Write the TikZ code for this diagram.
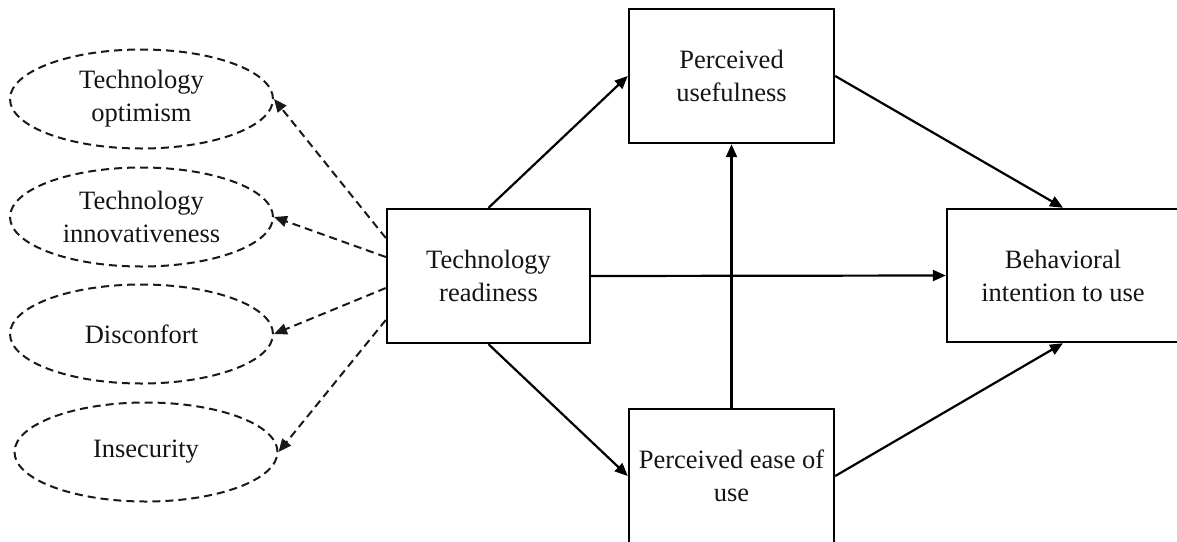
\documentclass[tikz,border=0pt]{standalone}
\usepackage{fontspec}
\setmainfont{Liberation Serif}
\usetikzlibrary{arrows.meta,shapes.geometric,calc}

\tikzset{
  txt/.style={font=\fontsize{26.5}{33}\selectfont, text=black!92, align=center, inner sep=0pt},
  box/.style={txt, draw=black, line width=2.4pt, rectangle},
  dimension/.style={txt, draw=black!90, line width=2pt, ellipse,
    dash pattern=on 8pt off 5pt, minimum width=263pt, minimum height=99pt},
  link/.style={draw=black, line width=2.2pt, -{Triangle[length=13pt,width=11pt]}},
  dimlink/.style={draw=black!90, line width=2pt, dash pattern=on 8pt off 5pt,
    -{Triangle[length=13pt,width=11pt]}}
}

\begin{document}
\begin{tikzpicture}[x=1pt,y=-1pt]
  \useasboundingbox (0,0) rectangle (1177,541);
  \clip (0,0) rectangle (1177,541);

  % dimensions of technology readiness
  \node[dimension] (e1) at (141.5,99)  {Technology\\optimism};
  \node[dimension] (e2) at (141.5,217) {Technology\\innovativeness};
  \node[dimension] (e3) at (141.5,334) {Disconfort};
  \node[dimension] (e4) at (146,452)   {Insecurity};

  % constructs
  \node[box, minimum width=203pt, minimum height=134pt] (tr) at (488.5,276) {Technology\\readiness};
  \node[box, minimum width=205pt, minimum height=134pt] (pu) at (731.5,76) {Perceived\\usefulness};
  \node[box, minimum width=205pt, minimum height=134pt] (peu) at (731.5,476) {Perceived ease of\\use};
  \node[box, minimum width=232pt, minimum height=133pt] (bi) at (1063,275.5) {Behavioral\\intention to use};

  % start points of the dashed links on the left side of the readiness box
  \coordinate (s1) at ($(tr.west)+(0,-38)$);
  \coordinate (s2) at ($(tr.west)+(0,-19)$);
  \coordinate (s3) at ($(tr.west)+(0,12)$);
  \coordinate (s4) at ($(tr.west)+(0,44)$);

  \draw[dimlink] (s1) -- (e1.east);
  \draw[dimlink] (s2) -- (e2.east);
  \draw[dimlink] (s3) -- (e3.east);
  \draw[dimlink] (s4) -- (e4.east);

  % structural paths
  \draw[link] (tr.north) -- (pu.west);
  \draw[link] (tr.east) -- (bi.west);
  \draw[link] (tr.south) -- (peu.west);
  \draw[link] (peu.north) -- (pu.south);
  \draw[link] (pu.east) -- (bi.north);
  \draw[link] (peu.east) -- (bi.south);
\end{tikzpicture}
\end{document}
